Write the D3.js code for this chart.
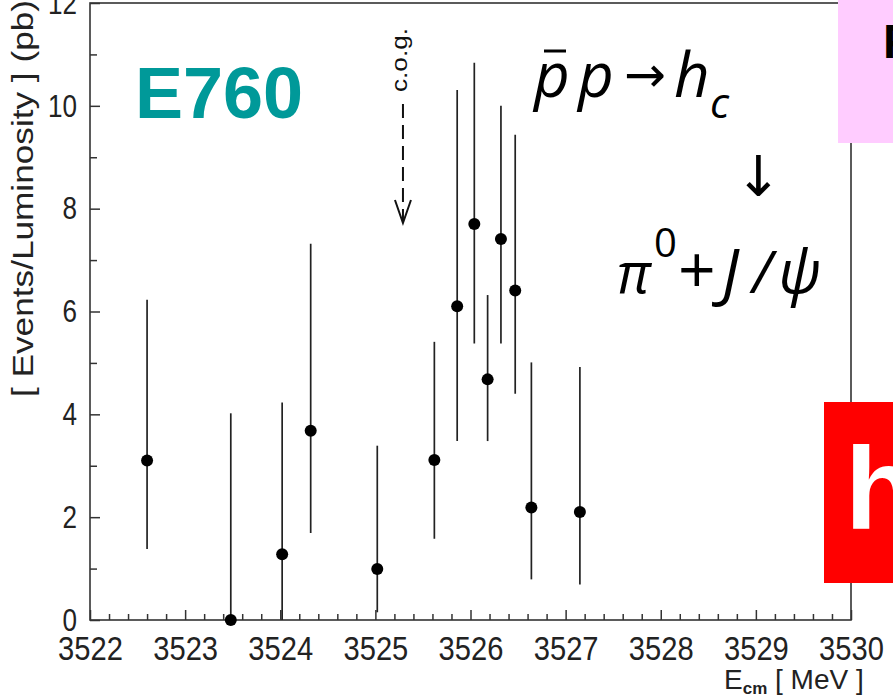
<!DOCTYPE html>
<html>
<head>
<meta charset="utf-8">
<script src="https://cdn.jsdelivr.net/npm/d3@7"></script>
<style>
  html, body { margin: 0; padding: 0; background: #fff; overflow: hidden; }
  svg { display: block; }
</style>
</head>
<body>
<svg id="chart" width="893" height="698"></svg>
<script>
// E760 scan: p̄p → h_c → π0 + J/ψ, event rate per luminosity vs. c.m. energy
const energy    = [3522.60, 3523.48, 3524.02, 3524.32, 3525.02, 3525.62, 3525.86, 3526.04, 3526.18, 3526.32, 3526.47, 3526.64, 3527.15];
const rate      = [3.10, 0.00, 1.28, 3.68, 0.99, 3.11, 6.10, 7.70, 4.68, 7.41, 6.41, 2.19, 2.10];
const rateUpper = [6.23, 4.02, 4.23, 7.32, 3.39, 5.41, 10.31, 10.84, 6.32, 10.00, 9.44, 5.01, 4.92];
const rateLower = [1.38, 0.00, 0.00, 1.69, 0.15, 1.58, 3.48, 5.38, 3.48, 5.38, 4.40, 0.79, 0.69];

const xMajorTicks = [3522, 3523, 3524, 3525, 3526, 3527, 3528, 3529, 3530];
const yMajorTicks = [0, 2, 4, 6, 8, 10, 12];
const cogEnergy = 3525.29;

const svg = d3.select("#chart");
const plotLeft = 90, plotRight = 851, plotTop = 3, plotBottom = 620;

const x = d3.scaleLinear().domain([3522, 3530]).range([plotLeft, plotRight]);
const y = d3.scaleLinear().domain([0, 12]).range([plotBottom, plotTop]);

const axisColor = "#333";
const labelFont = "'Liberation Sans', Arial, sans-serif";

// minor ticks
const xMinor = d3.range(3522, 3530.001, 0.2).filter(v => Math.abs(v - Math.round(v)) > 1e-6);
const yMinor = d3.range(1, 12, 2);

const gxMinor = svg.append("g").attr("transform", `translate(0,${plotBottom})`)
  .call(d3.axisBottom(x).tickValues(xMinor).tickSize(-6).tickFormat(""));
const gx = svg.append("g").attr("transform", `translate(0,${plotBottom})`)
  .call(d3.axisBottom(x).tickValues(xMajorTicks).tickSize(-10).tickPadding(16).tickFormat(d3.format("d")));
const gyMinor = svg.append("g").attr("transform", `translate(${plotLeft},0)`)
  .call(d3.axisLeft(y).tickValues(yMinor).tickSize(-7).tickFormat(""));
const gy = svg.append("g").attr("transform", `translate(${plotLeft},0)`)
  .call(d3.axisLeft(y).tickValues(yMajorTicks).tickSize(-10).tickPadding(13).tickFormat(d3.format("d")));

[gxMinor, gx, gyMinor, gy].forEach(g => {
  g.select(".domain").remove();
  g.selectAll(".tick line").attr("stroke", axisColor).attr("stroke-width", 1.5);
});
gx.selectAll(".tick text")
  .attr("font-family", labelFont).attr("font-size", 34).attr("fill", "#222")
  .attr("textLength", d => String(d).length * 16.2).attr("lengthAdjust", "spacingAndGlyphs");
gy.selectAll(".tick text")
  .attr("font-family", labelFont).attr("font-size", 32).attr("fill", "#222")
  .attr("textLength", d => String(d).length * 14.5).attr("lengthAdjust", "spacingAndGlyphs");

// frame
svg.append("rect")
  .attr("x", plotLeft).attr("y", plotTop).attr("width", plotRight - plotLeft).attr("height", plotBottom - plotTop)
  .attr("fill", "none").attr("stroke", axisColor).attr("stroke-width", 1.6);

// axis titles
svg.append("text")
  .attr("transform", `translate(33,397) rotate(-90)`)
  .attr("font-family", labelFont).attr("font-size", 29).attr("fill", "#222")
  .attr("textLength", 397).attr("lengthAdjust", "spacingAndGlyphs")
  .text("[ Events/Luminosity ] (pb)");

const xt = svg.append("text")
  .attr("x", 724).attr("y", 689)
  .attr("font-family", labelFont).attr("font-size", 28).attr("fill", "#222");
xt.append("tspan").text("E");
xt.append("tspan").attr("dy", 5).attr("font-size", 17).attr("font-weight", "bold").text("cm");
xt.append("tspan").attr("dy", -5).text(" [ MeV ]");

// data: error bars and markers
const pts = energy.map((e, i) => ({ e, v: rate[i], hi: rateUpper[i], lo: rateLower[i] }));
svg.append("g").selectAll("line").data(pts).join("line")
  .attr("x1", d => x(d.e)).attr("x2", d => x(d.e))
  .attr("y1", d => y(d.lo)).attr("y2", d => y(d.hi))
  .attr("stroke", "#222").attr("stroke-width", 1.7);
svg.append("g").selectAll("circle").data(pts).join("circle")
  .attr("cx", d => x(d.e)).attr("cy", d => y(d.v)).attr("r", 6)
  .attr("fill", "#000");

// centre-of-gravity marker
const cx = x(cogEnergy);
svg.append("line")
  .attr("x1", cx).attr("x2", cx).attr("y1", 104).attr("y2", 222)
  .attr("stroke", "#111").attr("stroke-width", 2).attr("stroke-dasharray", "14,7");
svg.append("path")
  .attr("d", `M${cx - 8},200 L${cx},223 L${cx + 8},200`)
  .attr("fill", "none").attr("stroke", "#111").attr("stroke-width", 2);
svg.append("text")
  .attr("transform", `translate(${cx + 4},92) rotate(-90)`)
  .attr("font-family", labelFont).attr("font-size", 22).attr("fill", "#111")
  .attr("textLength", 64).attr("lengthAdjust", "spacingAndGlyphs")
  .text("c.o.g.");

// experiment label
svg.append("text")
  .attr("x", 135).attr("y", 118)
  .attr("font-family", labelFont).attr("font-weight", "bold").attr("font-size", 72)
  .attr("fill", "#009999").text("E760");

// reaction formula
const mathFont = "'Open Sans', 'Noto Sans', sans-serif";
const f = svg.append("g").attr("fill", "#000");
function put(t, px, py, size, italic, family) {
  f.append("text").attr("x", px).attr("y", py)
    .attr("font-family", family || mathFont).attr("font-size", size)
    .attr("font-style", italic ? "italic" : "normal").text(t);
}
put("p", 534, 97, 62, true);
f.append("line").attr("x1", 544).attr("x2", 566).attr("y1", 51).attr("y2", 51)
  .attr("stroke", "#000").attr("stroke-width", 3);
put("p", 578, 97, 62, true);
put("\u2192", 624, 92, 50, false, "'DejaVu Sans', sans-serif");
put("h", 674, 97, 62, true);
put("c", 710, 118, 42, true);
put("\u2193", 735, 196, 56, false, "'Noto Sans', 'DejaVu Sans', sans-serif");
put("\u03C0", 617, 293, 56, true);
put("0", 654, 257, 40, false);
put("+", 678, 293, 66, false);
put("J", 722, 295, 64, true);
put("/", 752, 293, 58, true);
put("\u03C8", 778, 293, 60, true);

// side panels
svg.append("rect").attr("x", 838).attr("y", 0).attr("width", 55).attr("height", 143).attr("fill", "#FFCCFF");
svg.append("text").attr("x", 883).attr("y", 58)
  .attr("font-family", labelFont).attr("font-weight", "bold").attr("font-size", 48)
  .attr("fill", "#000").text("PANDA");
svg.append("rect").attr("x", 824).attr("y", 402).attr("width", 69).attr("height", 181).attr("fill", "#FF0000");
svg.append("text").attr("x", 845).attr("y", 529)
  .attr("font-family", labelFont).attr("font-weight", "bold").attr("font-size", 117)
  .attr("fill", "#fff").text("h");
</script>
</body>
</html>
